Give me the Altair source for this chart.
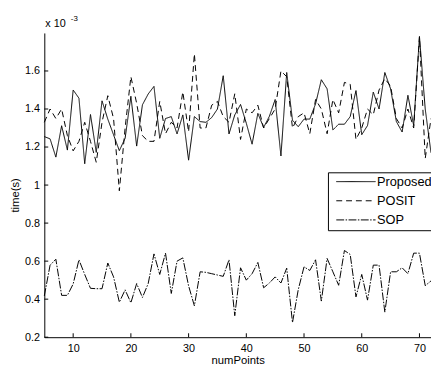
import altair as alt
import pandas as pd

num_points = list(range(5, 73))

proposed = [1.255, 1.243, 1.147, 1.312, 1.184, 1.500, 1.457, 1.112, 1.371, 1.172,
            1.443, 1.347, 1.264, 1.181, 1.246, 1.467, 1.205, 1.422, 1.479, 1.519,
            1.246, 1.350, 1.360, 1.269, 1.369, 1.131, 1.360, 1.334, 1.330, 1.355,
            1.400, 1.575, 1.269, 1.369, 1.424, 1.325, 1.215, 1.377, 1.303, 1.362,
            1.450, 1.153, 1.592, 1.341, 1.307, 1.347, 1.347, 1.427, 1.554, 1.506,
            1.290, 1.320, 1.320, 1.360, 1.497, 1.265, 1.313, 1.489, 1.400, 1.592,
            1.506, 1.334, 1.279, 1.472, 1.313, 1.781, 1.400, 1.170]

posit = [1.33, 1.40, 1.35, 1.40, 1.26, 1.18, 1.23, 1.33, 1.23, 1.12,
         1.33, 1.47, 1.35, 0.97, 1.30, 1.57, 1.43, 1.26, 1.23, 1.23,
         1.44, 1.27, 1.33, 1.30, 1.49, 1.28, 1.69, 1.30, 1.30, 1.42,
         1.44, 1.36, 1.33, 1.48, 1.24, 1.40, 1.38, 1.42, 1.30, 1.35,
         1.40, 1.60, 1.57, 1.30, 1.36, 1.38, 1.27, 1.45, 1.40, 1.27,
         1.45, 1.38, 1.54, 1.53, 1.24, 1.30, 1.40, 1.37, 1.50, 1.56,
         1.52, 1.35, 1.30, 1.40, 1.30, 1.78, 1.14, 1.35]

sop = [0.417, 0.579, 0.610, 0.420, 0.420, 0.480, 0.607, 0.530, 0.457, 0.455,
       0.455, 0.590, 0.517, 0.384, 0.449, 0.381, 0.482, 0.409, 0.482, 0.638,
       0.530, 0.642, 0.430, 0.600, 0.617, 0.470, 0.365, 0.544, 0.541, 0.534,
       0.527, 0.520, 0.607, 0.313, 0.565, 0.500, 0.534, 0.593, 0.460, 0.485,
       0.517, 0.485, 0.563, 0.277, 0.450, 0.570, 0.551, 0.607, 0.390, 0.614,
       0.544, 0.473, 0.656, 0.635, 0.412, 0.530, 0.395, 0.579, 0.579, 0.332,
       0.544, 0.544, 0.565, 0.534, 0.642, 0.642, 0.471, 0.496]

series_names = ["Proposed", "POSIT", "SOP"]
x_ticks = [10, 20, 30, 40, 50, 60, 70]
y_ticks = [0.2, 0.4, 0.6, 0.8, 1.0, 1.2, 1.4, 1.6]

rows = []
for name, vals in zip(series_names, [proposed, posit, sop]):
    for xv, yv in zip(num_points, vals):
        rows.append({"numPoints": xv, "time": yv, "series": name})
df = pd.DataFrame(rows)

W, H = 394, 310
FONT = "Liberation Sans"
xs = alt.Scale(domain=[5, 72], nice=False, zero=False)
ys = alt.Scale(domain=[0.2, 1.8], nice=False, zero=False)

lines = alt.Chart(df).mark_line(color="black", strokeWidth=1).encode(
    x=alt.X("numPoints:Q", scale=xs,
            axis=alt.Axis(values=x_ticks, title="numPoints", ticks=False, grid=False,
                          labelPadding=6, titleY=27, titleBaseline="alphabetic",
                          titleFontSize=11.5)),
    y=alt.Y("time:Q", scale=ys,
            axis=alt.Axis(values=y_ticks, format="~g", title="time(s)", ticks=False,
                          grid=False, labelPadding=5, titleX=-24, titleY=165,
                          titleFontSize=11.5)),
    strokeDash=alt.StrokeDash(
        "series:N",
        scale=alt.Scale(domain=series_names,
                        range=[[1, 0], [6, 4], [8, 1.5, 1.5, 1.5]]),
        legend=alt.Legend(orient="none", legendX=289, legendY=142, title=None,
                          strokeColor="black", fillColor="white", padding=3,
                          symbolType="M-4,0H4", symbolSize=100, symbolOffset=19,
                          symbolStrokeWidth=1, symbolStrokeColor="black",
                          labelFontSize=13, labelOffset=15, rowPadding=5.5,
                          cornerRadius=0, labelFont=FONT, labelColor="black"),
    ),
)

ytick_df = pd.DataFrame({"v": y_ticks})
xtick_df = pd.DataFrame({"v": x_ticks})

yticks = alt.Chart(ytick_df).mark_rule(color="black", strokeWidth=1).encode(
    y=alt.Y("v:Q", scale=ys), x=alt.value(0), x2=alt.value(4))
xticks = alt.Chart(xtick_df).mark_rule(color="black", strokeWidth=1).encode(
    x=alt.X("v:Q", scale=xs), y=alt.value(H), y2=alt.value(H - 4))

exp_base = alt.Chart(pd.DataFrame({"t": ["x 10"]})).mark_text(
    align="left", baseline="alphabetic", fontSize=11, font=FONT, color="black"
).encode(x=alt.value(1), y=alt.value(-6), text="t:N")
exp_sup = alt.Chart(pd.DataFrame({"t": ["-3"]})).mark_text(
    align="left", baseline="alphabetic", fontSize=8, font=FONT, color="black"
).encode(x=alt.value(27), y=alt.value(-12), text="t:N")

chart = alt.layer(lines, yticks, xticks, exp_base, exp_sup).properties(
    width=W, height=H,
    autosize=alt.AutoSizeParams(type="none"),
    padding={"left": 37, "top": 22, "right": 0, "bottom": 30},
).configure_view(stroke=None).configure_axis(
    domainColor="black", labelColor="black", titleColor="black",
    labelFont=FONT, titleFont=FONT, labelFontSize=11, titleFontWeight="normal",
    domainWidth=1,
)

chart.save("out.html", embed_options={"renderer": "svg", "actions": False})
